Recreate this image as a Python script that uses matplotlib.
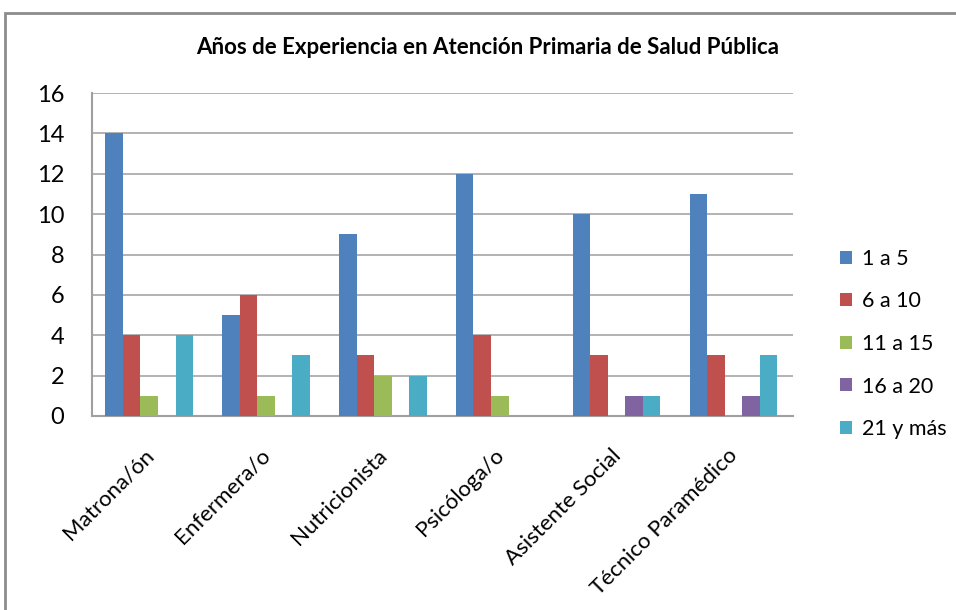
import matplotlib.pyplot as plt
import numpy as np
from matplotlib.patches import Rectangle

categorias = ['Matrona/ón', 'Enfermera/o', 'Nutricionista', 'Psicóloga/o',
              'Asistente Social', 'Técnico Paramédico']
series = ['1 a 5', '6 a 10', '11 a 15', '16 a 20', '21 y más']
v_1a5 = [14, 5, 9, 12, 10, 11]
v_6a10 = [4, 6, 3, 4, 3, 3]
v_11a15 = [1, 1, 2, 1, 0, 0]
v_16a20 = [0, 0, 0, 0, 1, 1]
v_21mas = [4, 3, 2, 0, 1, 3]
valores = [v_1a5, v_6a10, v_11a15, v_16a20, v_21mas]
colores = ['#4F81BD', '#C0504D', '#9BBB59', '#8064A2', '#4BACC6']

plt.rcParams['font.family'] = ['Lato', 'DejaVu Sans']

fig = plt.figure(figsize=(9.56, 6.1), dpi=100)
# marco gris del grafico
fig.patches.append(Rectangle((5 / 956, -0.1), 1.2, (610 - 13) / 610 + 0.1,
                             transform=fig.transFigure, fill=False,
                             edgecolor='#8c8c8c', linewidth=2))
ax = fig.add_axes([92 / 956, (610 - 416) / 610, 701 / 956, 323 / 610])

x = np.arange(len(categorias))
w = 0.15
for i, (serie, vals) in enumerate(zip(series, valores)):
    ax.bar(x + (i - 2) * w - 0.01, vals, w, color=colores[i], label=serie, zorder=3)

ax.set_xlim(-0.5, len(categorias) - 0.5)
ax.set_ylim(0, 16)
ax.set_yticks(range(0, 17, 2))
ax.yaxis.grid(True, color='#a6a6a6', linewidth=1.2, zorder=0)
ax.set_axisbelow(True)
for s in ['top', 'right']:
    ax.spines[s].set_visible(False)
for s in ['left', 'bottom']:
    ax.spines[s].set_color('#a0a0a0')
    ax.spines[s].set_linewidth(1.5)
ax.tick_params(length=0)
ax.tick_params(axis='y', labelsize=17, pad=20)
ax.set_xticks(x)
ax.set_xticklabels(categorias, rotation=45, ha='right', va='center',
                   rotation_mode='anchor', fontsize=16)
ax.tick_params(axis='x', pad=26)

fig.suptitle('Años de Experiencia en Atención Primaria de Salud Pública',
             x=488 / 956, y=1 - 48 / 610, va='center', fontsize=16,
             fontweight='bold')

leg = ax.legend(loc='center left', bbox_to_anchor=(1.04, 0.223), frameon=False,
                fontsize=15.5, handlelength=0.55, handleheight=0.55,
                handletextpad=0.45, labelspacing=1.05)

fig.savefig('out.png', dpi=100)
